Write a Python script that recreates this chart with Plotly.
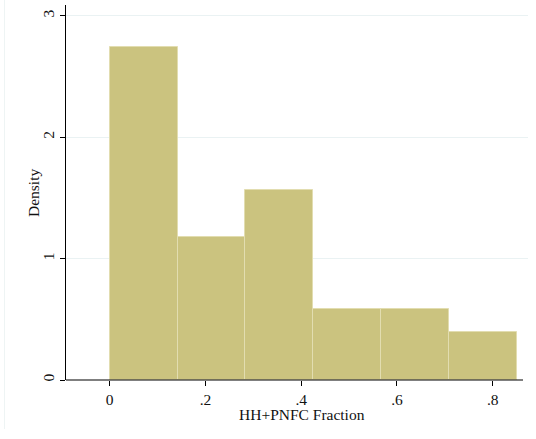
import plotly.graph_objects as go

bin_left = [0.0, 0.141667, 0.283333, 0.425, 0.566667, 0.708333]
bin_width = [0.141667] * 6
density = [2.745, 1.176, 1.569, 0.588, 0.588, 0.392]

x_ticks = [0, 0.2, 0.4, 0.6, 0.8]
x_ticklabels = ["0", ".2", ".4", ".6", ".8"]
y_ticks = [0, 1, 2, 3]
y_ticklabels = ["0", "1", "2", "3"]
x_title = "HH+PNFC Fraction"
y_title = "Density"

W, H = 536, 439
L, R, T, B = 66, 8, 5, 59
pw = W - L - R
ph = H - T - B

fig = go.Figure()
fig.add_trace(go.Bar(
    x=[l + w / 2 for l, w in zip(bin_left, bin_width)],
    y=density,
    width=bin_width,
    marker=dict(color="#cbc37f", line=dict(color="#e2ddb0", width=1)),
    hoverinfo="skip",
))

font = dict(family="Liberation Serif, Times New Roman, serif", size=15.5, color="#111")

fig.update_layout(
    width=W, height=H,
    margin=dict(l=L, r=R, t=T, b=B, autoexpand=False),
    paper_bgcolor="white", plot_bgcolor="white",
    font=font,
    showlegend=False,
    bargap=0,
    xaxis=dict(
        range=[-0.0913, 0.8737],
        tickvals=x_ticks, ticktext=x_ticklabels,
        ticks="outside", ticklen=5, tickcolor="black", tickwidth=1,
        showline=False, showgrid=False, zeroline=False,
        automargin=False,
    ),
    yaxis=dict(
        range=[0, 3.09],
        tickvals=y_ticks, ticktext=y_ticklabels,
        tickangle=-90,
        ticks="outside", ticklen=5, tickcolor="black", tickwidth=1,
        showline=True, linecolor="black", linewidth=1,
        showgrid=True, gridcolor="#eaf2f3", gridwidth=1,
        zeroline=False,
        automargin=False,
    ),
)

# axis titles placed as annotations
fig.add_annotation(text=x_title, xref="paper", yref="paper",
                   x=(302 - L) / pw, y=-(414 - (H - B)) / ph,
                   xanchor="center", yanchor="middle", showarrow=False, font=font)
fig.add_annotation(text=y_title, xref="paper", yref="paper",
                   x=(33 - L) / pw, y=(H - B - 193) / ph, textangle=-90,
                   xanchor="center", yanchor="middle", showarrow=False, font=font)

# x axis line (ends slightly before the plot region's right edge)
fig.add_shape(type="line", xref="paper", yref="paper",
              x0=0, x1=(523 - L) / pw, y0=0, y1=0,
              line=dict(color="black", width=1.2))
# faint outer frame on the left
fig.add_shape(type="line", xref="paper", yref="paper",
              x0=(4.5 - L) / pw, x1=(4.5 - L) / pw,
              y0=-(429 - (H - B)) / ph, y1=1 + T / ph,
              line=dict(color="#eef4f4", width=1))

fig.write_html("out.html", config={"displayModeBar": False},
               post_script="document.body.style.margin='0';")
